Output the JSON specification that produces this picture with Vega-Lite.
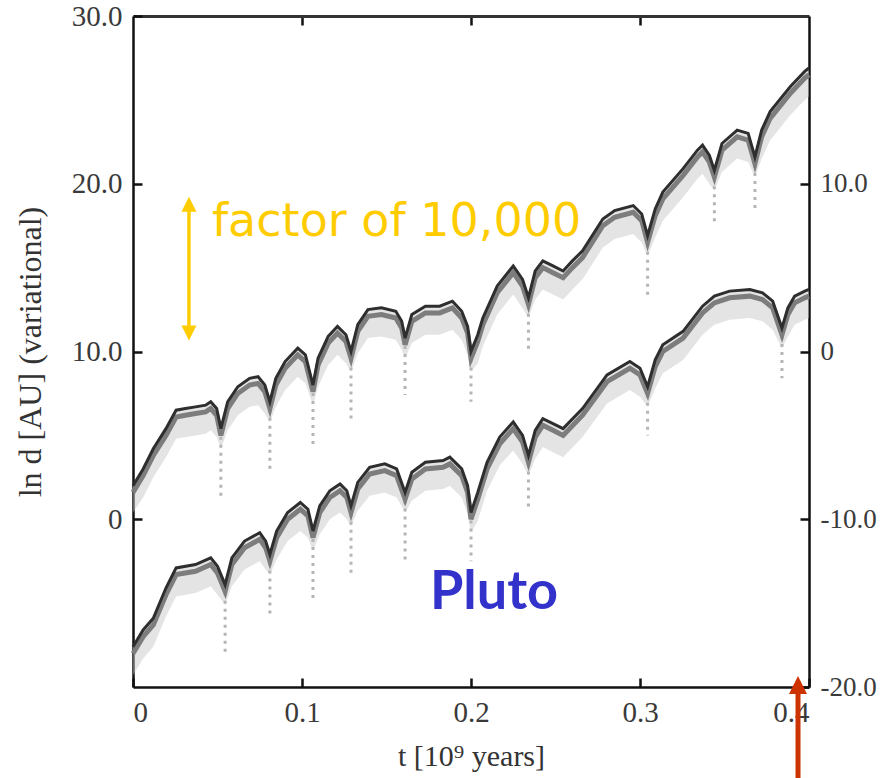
{
  "$schema": "https://vega.github.io/schema/vega-lite/v6.json",
  "width": 676,
  "height": 671,
  "autosize": {"type": "none"},
  "padding": {"left": 133, "top": 16, "right": 76, "bottom": 91},
  "background": "white",
  "config": {
    "view": {"stroke": null},
    "axis": {
      "grid": false,
      "domainColor": "#111111",
      "domainWidth": 2.5,
      "tickColor": "#111111",
      "tickWidth": 2.5,
      "tickSize": -9,
      "labelFont": "Liberation Serif",
      "labelFontSize": 29,
      "labelColor": "#3a3a3a",
      "titleFont": "Liberation Serif",
      "titleFontSize": 32,
      "titleFontWeight": "normal",
      "titleColor": "#333333"
    }
  },
  "datasets": {
    "upper": [
      {"t": 0, "y": 2.0, "mid": 1.6, "lo": 0.4},
      {"t": 0.006, "y": 3.0, "mid": 2.6, "lo": 1.3},
      {"t": 0.012, "y": 4.2, "mid": 3.8, "lo": 2.5},
      {"t": 0.0195, "y": 5.4, "mid": 5.0, "lo": 3.7},
      {"t": 0.0255, "y": 6.5, "mid": 6.1, "lo": 4.8},
      {"t": 0.031, "y": 6.6, "mid": 6.2, "lo": 4.9},
      {"t": 0.037, "y": 6.7, "mid": 6.3, "lo": 5.0},
      {"t": 0.043, "y": 6.8, "mid": 6.4, "lo": 5.1},
      {"t": 0.046, "y": 7.0, "mid": 6.6, "lo": 5.3},
      {"t": 0.0495, "y": 6.6, "mid": 6.2, "lo": 4.9},
      {"t": 0.052, "y": 5.4, "mid": 5.0, "lo": 4.2},
      {"t": 0.056, "y": 7.0, "mid": 6.6, "lo": 5.3},
      {"t": 0.062, "y": 7.9, "mid": 7.5, "lo": 6.2},
      {"t": 0.069, "y": 8.4, "mid": 8.0, "lo": 6.7},
      {"t": 0.074, "y": 8.5, "mid": 8.1, "lo": 6.8},
      {"t": 0.078, "y": 8.0, "mid": 7.6, "lo": 6.3},
      {"t": 0.081, "y": 7.0, "mid": 6.6, "lo": 5.8},
      {"t": 0.0845, "y": 8.4, "mid": 8.0, "lo": 6.7},
      {"t": 0.09, "y": 9.4, "mid": 9.0, "lo": 7.7},
      {"t": 0.0975, "y": 10.2, "mid": 9.8, "lo": 8.5},
      {"t": 0.102, "y": 9.8, "mid": 9.4, "lo": 8.1},
      {"t": 0.1065, "y": 8.0, "mid": 7.6, "lo": 6.8},
      {"t": 0.1095, "y": 9.6, "mid": 9.2, "lo": 7.9},
      {"t": 0.1155, "y": 10.9, "mid": 10.5, "lo": 9.2},
      {"t": 0.121, "y": 11.5, "mid": 11.1, "lo": 9.8},
      {"t": 0.126, "y": 11.0, "mid": 10.6, "lo": 9.3},
      {"t": 0.129, "y": 10.0, "mid": 9.6, "lo": 8.8},
      {"t": 0.133, "y": 11.6, "mid": 11.2, "lo": 9.9},
      {"t": 0.139, "y": 12.5, "mid": 12.1, "lo": 10.8},
      {"t": 0.147, "y": 12.6, "mid": 12.2, "lo": 10.9},
      {"t": 0.1555, "y": 12.4, "mid": 12.0, "lo": 10.7},
      {"t": 0.159, "y": 11.8, "mid": 11.4, "lo": 10.1},
      {"t": 0.161, "y": 10.8, "mid": 10.4, "lo": 9.6},
      {"t": 0.165, "y": 12.2, "mid": 11.8, "lo": 10.5},
      {"t": 0.173, "y": 12.7, "mid": 12.3, "lo": 11.0},
      {"t": 0.1815, "y": 12.7, "mid": 12.3, "lo": 11.0},
      {"t": 0.189, "y": 13.0, "mid": 12.6, "lo": 11.3},
      {"t": 0.1945, "y": 12.4, "mid": 12.0, "lo": 10.7},
      {"t": 0.198, "y": 11.5, "mid": 11.1, "lo": 9.8},
      {"t": 0.2, "y": 10.0, "mid": 9.6, "lo": 8.8},
      {"t": 0.204, "y": 11.0, "mid": 10.6, "lo": 9.3},
      {"t": 0.207, "y": 12.0, "mid": 11.6, "lo": 10.3},
      {"t": 0.2155, "y": 13.9, "mid": 13.5, "lo": 12.2},
      {"t": 0.225, "y": 15.1, "mid": 14.7, "lo": 13.4},
      {"t": 0.2305, "y": 14.3, "mid": 13.9, "lo": 12.6},
      {"t": 0.234, "y": 13.2, "mid": 12.8, "lo": 12.0},
      {"t": 0.238, "y": 14.8, "mid": 14.4, "lo": 13.1},
      {"t": 0.2425, "y": 15.4, "mid": 15.0, "lo": 13.7},
      {"t": 0.2485, "y": 15.1, "mid": 14.7, "lo": 13.4},
      {"t": 0.2545, "y": 14.8, "mid": 14.4, "lo": 13.1},
      {"t": 0.26, "y": 15.4, "mid": 15.0, "lo": 13.7},
      {"t": 0.266, "y": 16.0, "mid": 15.6, "lo": 14.3},
      {"t": 0.278, "y": 17.9, "mid": 17.5, "lo": 16.2},
      {"t": 0.285, "y": 18.4, "mid": 18.0, "lo": 16.7},
      {"t": 0.296, "y": 18.7, "mid": 18.3, "lo": 17.0},
      {"t": 0.301, "y": 18.2, "mid": 17.8, "lo": 16.5},
      {"t": 0.3045, "y": 16.9, "mid": 16.5, "lo": 15.7},
      {"t": 0.309, "y": 18.5, "mid": 18.1, "lo": 16.8},
      {"t": 0.3135, "y": 19.5, "mid": 19.1, "lo": 17.8},
      {"t": 0.3255, "y": 20.9, "mid": 20.5, "lo": 19.2},
      {"t": 0.334, "y": 22.0, "mid": 21.6, "lo": 20.3},
      {"t": 0.337, "y": 22.3, "mid": 21.9, "lo": 20.6},
      {"t": 0.341, "y": 21.7, "mid": 21.3, "lo": 20.0},
      {"t": 0.344, "y": 20.8, "mid": 20.4, "lo": 19.6},
      {"t": 0.3485, "y": 22.4, "mid": 22.0, "lo": 20.7},
      {"t": 0.3575, "y": 23.2, "mid": 22.8, "lo": 21.5},
      {"t": 0.364, "y": 23.0, "mid": 22.6, "lo": 21.3},
      {"t": 0.368, "y": 21.6, "mid": 21.2, "lo": 20.4},
      {"t": 0.372, "y": 23.2, "mid": 22.8, "lo": 21.5},
      {"t": 0.377, "y": 24.3, "mid": 23.9, "lo": 22.6},
      {"t": 0.389, "y": 25.8, "mid": 25.4, "lo": 24.1},
      {"t": 0.3975, "y": 26.7, "mid": 26.3, "lo": 25.0},
      {"t": 0.4, "y": 26.9, "mid": 26.5, "lo": 25.2}
    ],
    "lower": [
      {"t": 0, "y": -17.6, "mid": -18.0, "lo": -19.3},
      {"t": 0.006, "y": -16.6, "mid": -17.0, "lo": -18.3},
      {"t": 0.012, "y": -15.9, "mid": -16.3, "lo": -17.6},
      {"t": 0.0195, "y": -14.1, "mid": -14.5, "lo": -15.8},
      {"t": 0.0255, "y": -12.9, "mid": -13.3, "lo": -14.6},
      {"t": 0.037, "y": -12.7, "mid": -13.1, "lo": -14.4},
      {"t": 0.046, "y": -12.3, "mid": -12.7, "lo": -14.0},
      {"t": 0.05, "y": -12.8, "mid": -13.2, "lo": -14.5},
      {"t": 0.0545, "y": -13.9, "mid": -14.3, "lo": -15.1},
      {"t": 0.0585, "y": -12.3, "mid": -12.7, "lo": -14.0},
      {"t": 0.066, "y": -11.3, "mid": -11.7, "lo": -13.0},
      {"t": 0.075, "y": -10.8, "mid": -11.2, "lo": -12.5},
      {"t": 0.0785, "y": -11.3, "mid": -11.7, "lo": -13.0},
      {"t": 0.081, "y": -12.1, "mid": -12.5, "lo": -13.3},
      {"t": 0.085, "y": -10.7, "mid": -11.1, "lo": -12.4},
      {"t": 0.0915, "y": -9.6, "mid": -10.0, "lo": -11.3},
      {"t": 0.099, "y": -9.0, "mid": -9.4, "lo": -10.7},
      {"t": 0.1035, "y": -9.4, "mid": -9.8, "lo": -11.1},
      {"t": 0.1065, "y": -10.7, "mid": -11.1, "lo": -11.9},
      {"t": 0.1105, "y": -9.2, "mid": -9.6, "lo": -10.9},
      {"t": 0.1165, "y": -8.3, "mid": -8.7, "lo": -10.0},
      {"t": 0.1225, "y": -7.9, "mid": -8.3, "lo": -9.6},
      {"t": 0.1265, "y": -8.3, "mid": -8.7, "lo": -10.0},
      {"t": 0.129, "y": -9.2, "mid": -9.6, "lo": -10.4},
      {"t": 0.133, "y": -7.8, "mid": -8.2, "lo": -9.5},
      {"t": 0.14, "y": -6.9, "mid": -7.3, "lo": -8.6},
      {"t": 0.149, "y": -6.7, "mid": -7.1, "lo": -8.4},
      {"t": 0.156, "y": -7.0, "mid": -7.4, "lo": -8.7},
      {"t": 0.161, "y": -8.4, "mid": -8.8, "lo": -9.6},
      {"t": 0.165, "y": -7.2, "mid": -7.6, "lo": -8.9},
      {"t": 0.173, "y": -6.6, "mid": -7.0, "lo": -8.3},
      {"t": 0.1835, "y": -6.5, "mid": -6.9, "lo": -8.2},
      {"t": 0.1875, "y": -6.3, "mid": -6.7, "lo": -8.0},
      {"t": 0.1945, "y": -7.0, "mid": -7.4, "lo": -8.7},
      {"t": 0.198, "y": -8.0, "mid": -8.4, "lo": -9.7},
      {"t": 0.2, "y": -9.6, "mid": -10.0, "lo": -10.8},
      {"t": 0.204, "y": -8.4, "mid": -8.8, "lo": -10.1},
      {"t": 0.2095, "y": -6.6, "mid": -7.0, "lo": -8.3},
      {"t": 0.217, "y": -5.1, "mid": -5.5, "lo": -6.8},
      {"t": 0.225, "y": -4.2, "mid": -4.6, "lo": -5.9},
      {"t": 0.2305, "y": -5.0, "mid": -5.4, "lo": -6.7},
      {"t": 0.234, "y": -6.2, "mid": -6.6, "lo": -7.4},
      {"t": 0.238, "y": -4.7, "mid": -5.1, "lo": -6.4},
      {"t": 0.2425, "y": -4.0, "mid": -4.4, "lo": -5.7},
      {"t": 0.2485, "y": -4.3, "mid": -4.7, "lo": -6.0},
      {"t": 0.2545, "y": -4.6, "mid": -5.0, "lo": -6.3},
      {"t": 0.266, "y": -3.4, "mid": -3.8, "lo": -5.1},
      {"t": 0.2805, "y": -1.4, "mid": -1.8, "lo": -3.1},
      {"t": 0.294, "y": -0.6, "mid": -1.0, "lo": -2.3},
      {"t": 0.3, "y": -1.0, "mid": -1.4, "lo": -2.7},
      {"t": 0.3045, "y": -2.1, "mid": -2.5, "lo": -3.3},
      {"t": 0.309, "y": -0.5, "mid": -0.9, "lo": -2.2},
      {"t": 0.3135, "y": 0.4, "mid": 0.0, "lo": -1.3},
      {"t": 0.3255, "y": 1.2, "mid": 0.8, "lo": -0.5},
      {"t": 0.337, "y": 2.7, "mid": 2.3, "lo": 1.0},
      {"t": 0.344, "y": 3.3, "mid": 2.9, "lo": 1.6},
      {"t": 0.353, "y": 3.6, "mid": 3.2, "lo": 1.9},
      {"t": 0.365, "y": 3.7, "mid": 3.3, "lo": 2.0},
      {"t": 0.3725, "y": 3.5, "mid": 3.1, "lo": 1.8},
      {"t": 0.3785, "y": 3.0, "mid": 2.6, "lo": 1.3},
      {"t": 0.384, "y": 1.4, "mid": 1.0, "lo": 0.2},
      {"t": 0.3875, "y": 2.6, "mid": 2.2, "lo": 0.9},
      {"t": 0.3915, "y": 3.3, "mid": 2.9, "lo": 1.6},
      {"t": 0.3975, "y": 3.6, "mid": 3.2, "lo": 1.9},
      {"t": 0.4, "y": 3.7, "mid": 3.3, "lo": 2.0}
    ],
    "spikesUpper": [
      {"t": 0.052, "y": 5.4, "yb": 1.2},
      {"t": 0.081, "y": 7.0, "yb": 3.0},
      {"t": 0.1065, "y": 8.0, "yb": 4.4},
      {"t": 0.129, "y": 10.0, "yb": 5.9},
      {"t": 0.161, "y": 10.8, "yb": 7.4},
      {"t": 0.2, "y": 10.0, "yb": 7.0},
      {"t": 0.234, "y": 13.2, "yb": 10.0},
      {"t": 0.3045, "y": 16.9, "yb": 13.3},
      {"t": 0.344, "y": 20.8, "yb": 17.5},
      {"t": 0.368, "y": 21.6, "yb": 18.3}
    ],
    "spikesLower": [
      {"t": 0.0545, "y": -13.9, "yb": -17.9},
      {"t": 0.081, "y": -12.1, "yb": -15.7},
      {"t": 0.1065, "y": -10.7, "yb": -14.7},
      {"t": 0.129, "y": -9.2, "yb": -13.3},
      {"t": 0.161, "y": -8.4, "yb": -12.6},
      {"t": 0.2, "y": -9.6, "yb": -12.5},
      {"t": 0.234, "y": -6.2, "yb": -9.5},
      {"t": 0.3045, "y": -2.1, "yb": -5.0},
      {"t": 0.384, "y": 1.4, "yb": -1.6}
    ]
  },
  "layer": [
    {
      "layer": [
        {
          "data": {"name": "upper"},
          "mark": {"type": "area", "color": "#c4c4c4", "opacity": 0.45},
          "encoding": {
            "x": {"field": "t", "type": "quantitative", "scale": {"domain": [0, 0.4], "nice": false, "zero": false},
              "axis": {"orient": "bottom", "values": [0, 0.1, 0.2, 0.3, 0.4], "labelExpr": "datum.value === 0 ? '0' : format(datum.value, '.1f')", "labelPadding": 20, "title": "t [10⁹ years]", "titleFontSize": 30, "titlePadding": 14}},
            "y": {"field": "y", "type": "quantitative", "scale": {"domain": [-10, 30], "nice": false, "zero": false},
              "axis": {"orient": "left", "values": [0, 10, 20, 30], "labelExpr": "datum.value === 0 ? '0' : format(datum.value, '.1f')", "labelPadding": 20, "title": "ln d [AU] (variational)", "titlePadding": 24}},
            "y2": {"field": "lo"}
          }
        },
        {
          "data": {"name": "spikesUpper"},
          "mark": {"type": "rule", "color": "#b5b5b5", "strokeWidth": 3, "strokeDash": [3, 5]},
          "encoding": {
            "x": {"field": "t", "type": "quantitative"},
            "y": {"field": "y", "type": "quantitative"},
            "y2": {"field": "yb"}
          }
        },
        {
          "data": {"name": "upper"},
          "mark": {"type": "line", "color": "#7d7d7d", "strokeWidth": 5},
          "encoding": {
            "x": {"field": "t", "type": "quantitative"},
            "y": {"field": "mid", "type": "quantitative"}
          }
        },
        {
          "data": {"name": "upper"},
          "mark": {"type": "line", "color": "#2e2e2e", "strokeWidth": 3},
          "encoding": {
            "x": {"field": "t", "type": "quantitative"},
            "y": {"field": "y", "type": "quantitative"}
          }
        },
        {
          "data": {"values": [{"t": 0.0331, "y": 18.6, "yb": 11.3}]},
          "mark": {"type": "rule", "color": "#FFCC00", "strokeWidth": 3.5},
          "encoding": {
            "x": {"field": "t", "type": "quantitative"},
            "y": {"field": "y", "type": "quantitative"},
            "y2": {"field": "yb"}
          }
        },
        {
          "data": {"values": [{"t": 0.0331, "y": 18.78}]},
          "mark": {"type": "point", "shape": "M0,-1L-1,1L1,1Z", "size": 225, "filled": true, "color": "#FFCC00", "opacity": 1},
          "encoding": {
            "x": {"field": "t", "type": "quantitative"},
            "y": {"field": "y", "type": "quantitative"}
          }
        },
        {
          "data": {"values": [{"t": 0.0331, "y": 11.1}]},
          "mark": {"type": "point", "shape": "M0,1L-1,-1L1,-1Z", "size": 225, "filled": true, "color": "#FFCC00", "opacity": 1},
          "encoding": {
            "x": {"field": "t", "type": "quantitative"},
            "y": {"field": "y", "type": "quantitative"}
          }
        },
        {
          "data": {"values": [{"t": 0.0467, "y": 16.9, "label": "factor of 10,000"}]},
          "mark": {"type": "text", "font": "DejaVu Sans", "fontSize": 46, "color": "#FFCC00", "align": "left", "baseline": "alphabetic"},
          "encoding": {
            "x": {"field": "t", "type": "quantitative"},
            "y": {"field": "y", "type": "quantitative"},
            "text": {"field": "label"}
          }
        },
        {
          "data": {"values": [{"t": 0.2136, "y": -5.36, "label": "Pluto"}]},
          "mark": {"type": "text", "font": "Lato", "fontWeight": "bold", "fontSize": 54, "color": "#3333CC", "align": "center", "baseline": "alphabetic"},
          "encoding": {
            "x": {"field": "t", "type": "quantitative"},
            "y": {"field": "y", "type": "quantitative"},
            "text": {"field": "label"}
          }
        },
        {
          "data": {"values": [{"t": 0.3935, "y": -10.3, "yb": -15.8}]},
          "mark": {"type": "rule", "color": "#CC3300", "strokeWidth": 5},
          "encoding": {
            "x": {"field": "t", "type": "quantitative"},
            "y": {"field": "y", "type": "quantitative"},
            "y2": {"field": "yb"}
          }
        },
        {
          "data": {"values": [{"t": 0.3935, "y": -9.88}]},
          "mark": {"type": "point", "shape": "M0,-1L-1,1L1,1Z", "size": 324, "filled": true, "color": "#CC3300", "opacity": 1},
          "encoding": {
            "x": {"field": "t", "type": "quantitative"},
            "y": {"field": "y", "type": "quantitative"}
          }
        }
      ]
    },
    {
      "layer": [
        {
          "data": {"name": "lower"},
          "mark": {"type": "area", "color": "#c4c4c4", "opacity": 0.45},
          "encoding": {
            "x": {"field": "t", "type": "quantitative", "scale": {"domain": [0, 0.4], "nice": false, "zero": false},
              "axis": {"orient": "top", "values": [0.1, 0.2, 0.3], "labels": false, "title": null, "domainColor": "#333333", "domainWidth": 3}},
            "y": {"field": "y", "type": "quantitative", "scale": {"domain": [-20, 20], "nice": false, "zero": false},
              "axis": {"orient": "right", "values": [-20, -10, 0, 10], "labelExpr": "datum.value === 0 ? '0' : (datum.value < 0 ? '-' : '') + format(abs(datum.value), '.1f')", "labelPadding": 20, "labelFontSize": 27, "title": null}},
            "y2": {"field": "lo"}
          }
        },
        {
          "data": {"name": "spikesLower"},
          "mark": {"type": "rule", "color": "#b5b5b5", "strokeWidth": 3, "strokeDash": [3, 5]},
          "encoding": {
            "x": {"field": "t", "type": "quantitative"},
            "y": {"field": "y", "type": "quantitative"},
            "y2": {"field": "yb"}
          }
        },
        {
          "data": {"name": "lower"},
          "mark": {"type": "line", "color": "#7d7d7d", "strokeWidth": 5},
          "encoding": {
            "x": {"field": "t", "type": "quantitative"},
            "y": {"field": "mid", "type": "quantitative"}
          }
        },
        {
          "data": {"name": "lower"},
          "mark": {"type": "line", "color": "#2e2e2e", "strokeWidth": 3},
          "encoding": {
            "x": {"field": "t", "type": "quantitative"},
            "y": {"field": "y", "type": "quantitative"}
          }
        }
      ]
    }
  ],
  "resolve": {"scale": {"y": "independent"}, "axis": {"x": "independent", "y": "independent"}}
}
